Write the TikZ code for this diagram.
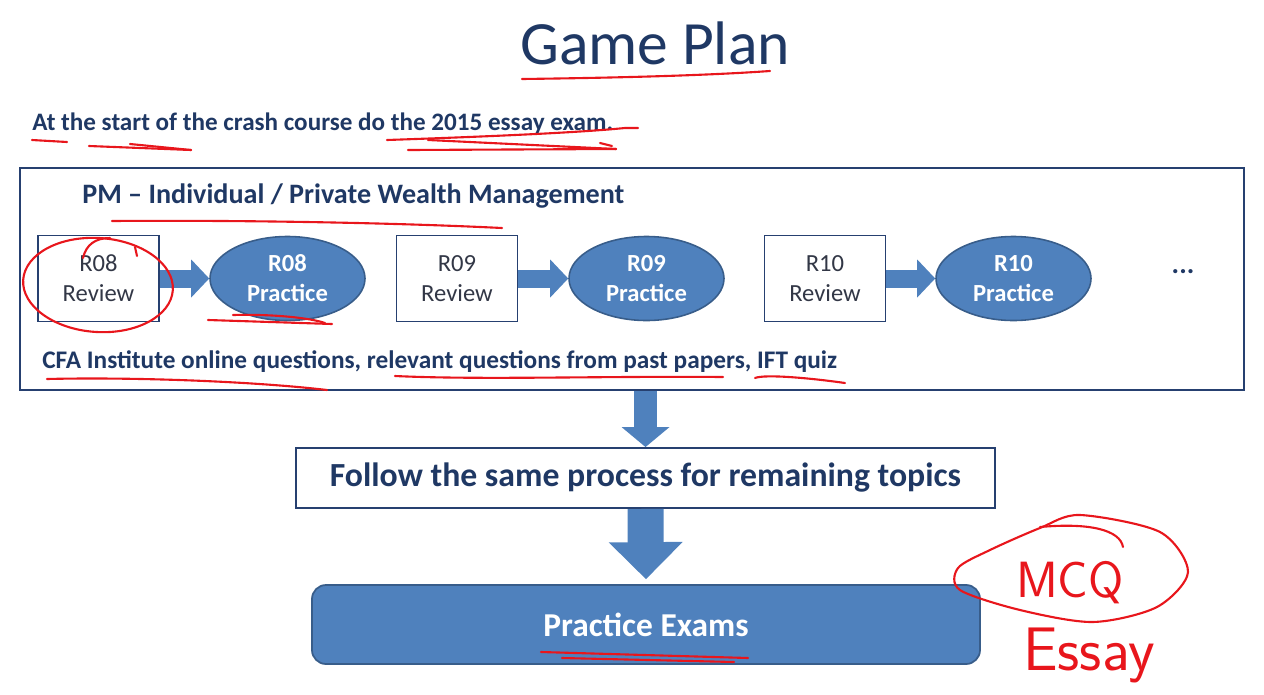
\documentclass[tikz,border=0pt]{standalone}
\usepackage{fontspec}
\setmainfont{Carlito}
\usetikzlibrary{arrows.meta,shapes.geometric}

\definecolor{navy}{RGB}{31,56,100}
\definecolor{edge}{RGB}{38,64,112}
\definecolor{greytext}{RGB}{50,55,70}
\definecolor{fillblue}{RGB}{79,129,189}
\definecolor{darkblue}{RGB}{56,93,138}
\definecolor{inkred}{RGB}{232,22,28}

\begin{document}
\begin{tikzpicture}[x=1cm,y=1cm,>=stealth]
  \tikzstyle{review}=[draw=edge, line width=1.1pt, minimum width=2.42cm, minimum height=1.72cm,
    align=center, text=greytext, font=\fontsize{14}{17}\selectfont]
  \tikzstyle{practice}=[ellipse, draw=darkblue, fill=fillblue, line width=0.9pt, minimum width=3.1cm,
    minimum height=1.68cm, inner sep=0pt, align=center, text=white, font=\fontsize{14}{17}\selectfont\bfseries]
  \tikzstyle{hflow}=[fillblue, line width=0.36cm, -{Triangle[length=0.36cm, width=0.76cm, line width=0pt]}]
  \tikzstyle{ink}=[inkred, line width=1.2pt, line cap=round, line join=round]
  \tikzstyle{say}=[anchor=base west, inner sep=0pt, text=navy]

  \useasboundingbox (0,0) rectangle (25.28,-13.88);

  \node[text=navy, anchor=base, font=\fontsize{35}{40}\selectfont] (title) at (13.1,-1.28) {Game Plan};
  \node[say, font=\fontsize{14.3}{17}\selectfont\bfseries] (start) at (0.64,-2.60)
    {At the start of the crash course do the 2015 essay exam.};

  % topic box
  \node[draw=edge, line width=1.1pt, minimum width=24.48cm, minimum height=4.44cm] (pmbox) at (12.64,-5.58) {};
  \node[say, font=\fontsize{16}{19}\selectfont\bfseries] (pm) at (1.64,-4.06)
    {PM -- Individual / Private Wealth Management};

  \node[review] (r08) at (1.97,-5.57) {R08\\Review};
  \node[practice] (p08) at (5.75,-5.57) {R08\\Practice};
  \node[review] (r09) at (9.14,-5.57) {R09\\Review};
  \node[practice] (p09) at (12.93,-5.57) {R09\\Practice};
  \node[review] (r10) at (16.5,-5.57) {R10\\Review};
  \node[practice] (p10) at (20.27,-5.57) {R10\\Practice};
  \node[text=navy, font=\fontsize{16}{18}\selectfont\bfseries] (more) at (23.66,-5.44) {...};

  \draw[hflow] (r08.east) -- (p08.west);
  \draw[hflow] (r09.east) -- (p09.west);
  \draw[hflow] (r10.east) -- (p10.west);

  \node[say, font=\fontsize{14.4}{17}\selectfont\bfseries] (sources) at (0.84,-7.36)
    {CFA Institute online questions, relevant questions from past papers, IFT quiz};

  % rest of the plan
  \node[draw=edge, line width=1.1pt, minimum width=13.98cm, minimum height=1.2cm, text=navy,
    font=\fontsize{19.2}{22}\selectfont\bfseries] (follow) at (12.91,-9.56)
    {Follow the same process for remaining topics};
  \node[draw=darkblue, fill=fillblue, line width=1pt, rounded corners=0.28cm, minimum width=13.36cm,
    minimum height=1.58cm, text=white, font=\fontsize{19}{22}\selectfont\bfseries] (exams) at (12.92,-12.49)
    {Practice Exams};

  \draw[fillblue, line width=0.46cm, -{Triangle[length=0.4cm, width=0.96cm, line width=0pt]}]
    (pmbox.south -| follow.north) -- (follow.north);
  \draw[fillblue, line width=0.72cm, shorten >=0.1cm, -{Triangle[length=0.74cm, width=1.48cm, line width=0pt]}]
    (follow.south) -- (exams.north);

  % pen marks
  \draw[ink] (10.44,-1.58) .. controls (12,-1.56) and (14,-1.52) .. (15.4,-1.42);
  \draw[ink] (0.64,-2.80) -- (1.34,-2.84);
  \draw[ink] (1.78,-2.92) -- (3.82,-3.0);
  \draw[ink] (2.6,-2.88) -- (3.82,-3.0);
  \draw[ink] (7.74,-2.80) .. controls (9.5,-2.74) and (11.5,-2.66) .. (12.5,-2.56) -- (12.76,-2.56);
  \draw[ink] (8.56,-2.80) -- (12.32,-2.98);
  \draw[ink] (8.16,-3.0) -- (12.32,-2.98);
  \draw[ink] (12.0,-2.86) -- (12.24,-2.92);
  \draw[ink] (2.24,-4.42) .. controls (5,-4.40) and (8,-4.46) .. (10.04,-4.56);
  \draw[ink, rotate around={-4:(1.96,-5.7)}] (1.96,-5.7) ellipse (1.5cm and 0.94cm);
  \draw[ink] (1.66,-5.16) .. controls (1.72,-4.9) and (1.9,-4.76) .. (2.2,-4.76);
  \draw[ink] (2.7,-4.94) -- (2.74,-5.12);
  \draw[ink] (4.16,-6.40) -- (6.64,-6.48);
  \draw[ink] (4.66,-6.30) .. controls (5.5,-6.28) and (6.2,-6.36) .. (6.5,-6.46);
  \draw[ink] (0.94,-7.58) .. controls (2.6,-7.54) and (5,-7.62) .. (6.54,-7.80);
  \draw[ink] (7.9,-7.52) .. controls (9.6,-7.60) and (12,-7.52) .. (14.46,-7.54);
  \draw[ink] (15.1,-7.56) .. controls (15.3,-7.48) and (16.2,-7.56) .. (16.9,-7.66);
  \draw[ink] (10.82,-13.04) -- (14.96,-13.16);
  \draw[ink] (11.24,-13.16) -- (14.68,-13.24);
  \draw[ink] plot[smooth cycle, tension=0.5] coordinates {(19.16,-11.36) (19.8,-11.0) (20.8,-10.56)
    (21.6,-10.3) (23.2,-10.64) (23.76,-11.44) (23.14,-12.14) (21.86,-12.44) (20.4,-12.2) (19.2,-11.8)};
  \draw[ink] (20.8,-10.54) .. controls (21.8,-10.45) and (22.4,-10.6) .. (22.46,-10.94);
  \node[text=inkred, font=\sffamily\fontsize{29}{30}\selectfont] (mcq) at (21.4,-11.66) {MCQ};
  \node[text=inkred, anchor=base west, font=\sffamily\fontsize{35}{36}\selectfont] (essay) at (20.34,-13.4) {Essay};
\end{tikzpicture}
\end{document}
